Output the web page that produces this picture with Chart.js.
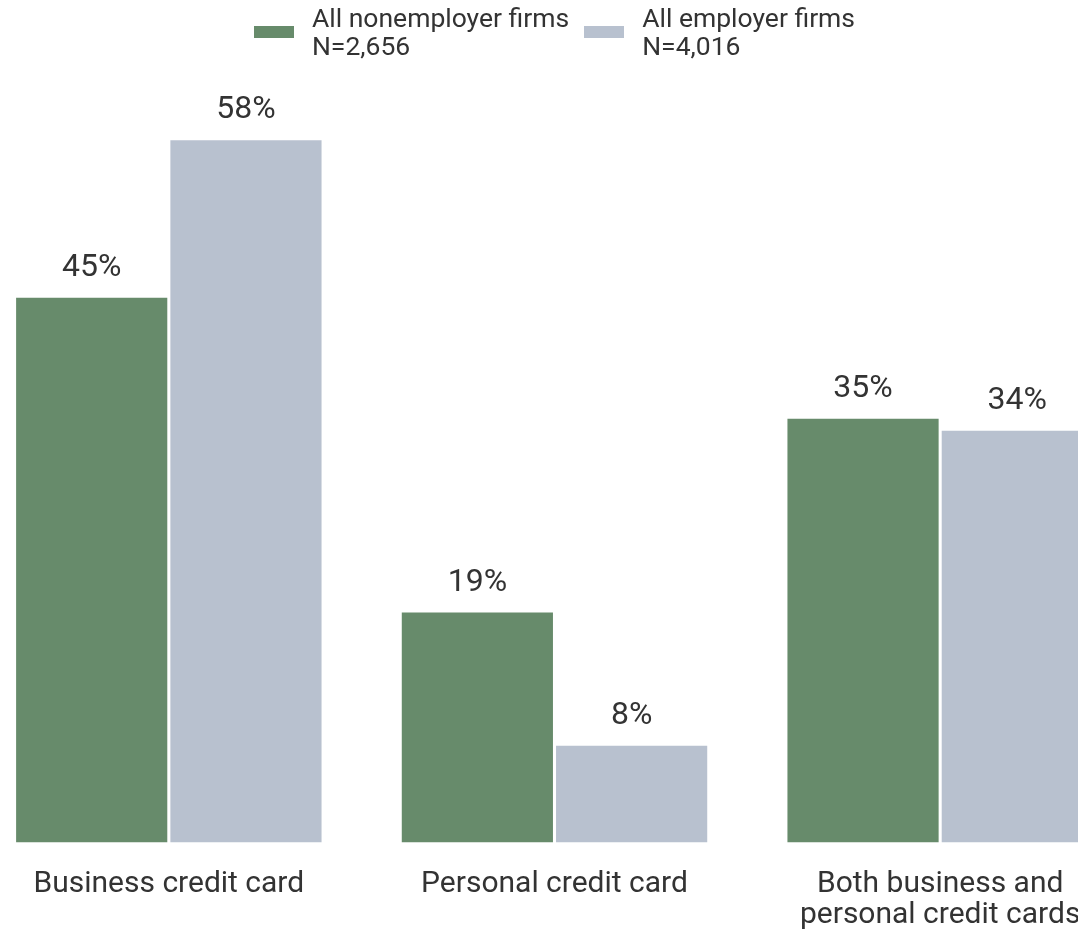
<!DOCTYPE html>
<html>
<head>
<meta charset="utf-8">
<script src="https://cdn.jsdelivr.net/npm/chart.js@4"></script>
<style>
  html, body { margin: 0; padding: 0; background: #fff; overflow: hidden; }
  body { width: 1078px; height: 930px; position: relative; font-family: Roboto, sans-serif; color: #333; }
  #wrap { position: absolute; left: -24px; top: 0; width: 1157px; height: 951px; }
  #legend { position: absolute; left: 0; right: 0; top: 4px; display: flex; justify-content: center; gap: 15px; z-index: 2; }
  .item { display: flex; align-items: center; }
  .box { width: 40px; height: 12px; margin-right: 18px; }
  .txt { font-size: 26.5px; line-height: 28px; }
</style>
</head>
<body>
<div id="wrap">
  <div id="legend"></div>
  <canvas id="barChart"></canvas>
</div>
<script>
// Kartenarten nach Firmentyp (Anteil in %)
const categories = [['Business credit card'], ['Personal credit card'], ['Both business and', 'personal credit cards']];
const seriesNames = ['All nonemployer firms', 'All employer firms'];
const sampleSizes = ['N=2,656', 'N=4,016'];
const nonemployer = [45, 19, 35];
const employer = [58, 8, 34];
const colors = ['#678b6b', '#b8c1cf'];

// Legende als HTML, weil die Einträge zweizeilig sind
const legendEl = document.getElementById('legend');
seriesNames.forEach(function (name, i) {
    const item = document.createElement('div');
    item.className = 'item';
    item.innerHTML = '<div class="box" style="background:' + colors[i] + '"></div>' +
        '<div class="txt">' + name + '<br>' + sampleSizes[i] + '</div>';
    legendEl.appendChild(item);
});

// Prozentwerte über den Balken
const valueLabels = {
    id: 'valueLabels',
    afterDatasetsDraw(chart) {
        const ctx = chart.ctx;
        ctx.save();
        ctx.font = '32px Roboto, sans-serif';
        ctx.fillStyle = '#333';
        ctx.textAlign = 'center';
        ctx.textBaseline = 'alphabetic';
        chart.data.datasets.forEach(function (ds, i) {
            chart.getDatasetMeta(i).data.forEach(function (bar, j) {
                ctx.fillText(ds.data[j] + '%', bar.x, bar.y - 22);
            });
        });
        ctx.restore();
    }
};

const ctxBar = document.getElementById('barChart').getContext('2d');
const barChart = new Chart(ctxBar, {
    type: 'bar',
    data: {
        labels: categories,
        datasets: [{
            label: seriesNames[0],
            data: nonemployer,
            backgroundColor: colors[0]
        }, {
            label: seriesNames[1],
            data: employer,
            backgroundColor: colors[1]
        }]
    },
    options: {
        responsive: true,
        maintainAspectRatio: false,
        animation: false,
        categoryPercentage: 0.8,
        barPercentage: 0.98,
        layout: { padding: { top: 116, bottom: 2, left: 0, right: 0 } },
        plugins: {
            legend: { display: false },
            tooltip: { enabled: false }
        },
        scales: {
            x: {
                grid: { display: false },
                border: { display: false },
                ticks: {
                    color: '#333',
                    font: { family: 'Roboto', size: 30, lineHeight: 1.04 },
                    padding: 18,
                    autoSkip: false,
                    maxRotation: 0
                }
            },
            y: {
                display: false,
                min: 0,
                max: 60
            }
        }
    },
    plugins: [valueLabels]
});
</script>
</body>
</html>
